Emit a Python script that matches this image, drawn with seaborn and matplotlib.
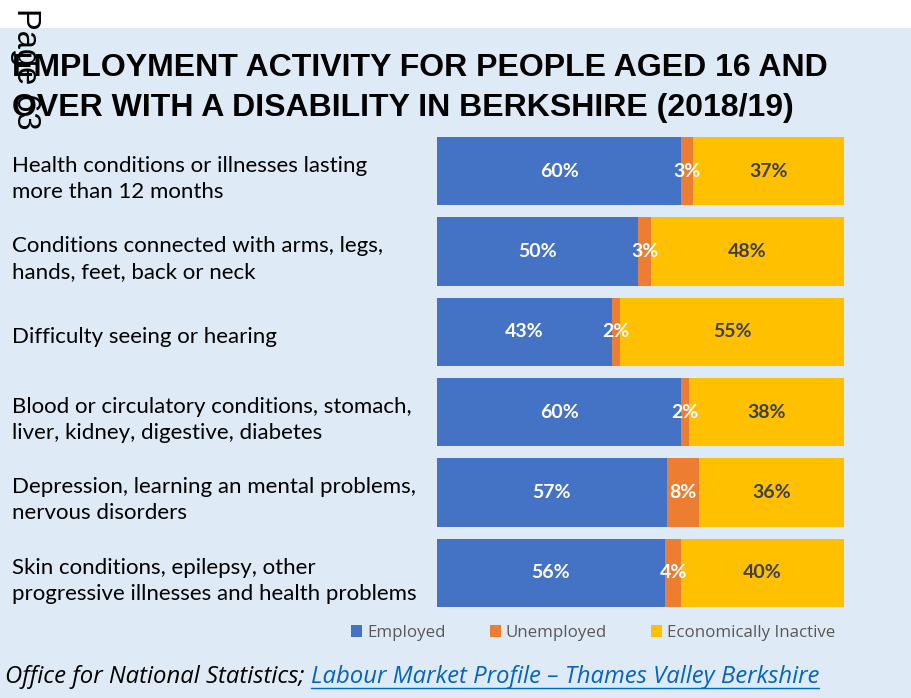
import matplotlib
matplotlib.use("Agg")
import matplotlib.pyplot as plt
from matplotlib.patches import Rectangle, Patch
from matplotlib.lines import Line2D
from matplotlib.transforms import ScaledTranslation
import seaborn as sns
import pandas as pd

# ---- data -------------------------------------------------------------
categories = [
    "Health conditions or illnesses lasting\nmore than 12 months",
    "Conditions connected with arms, legs,\nhands, feet, back or neck",
    "Difficulty seeing or hearing",
    "Blood or circulatory conditions, stomach,\nliver, kidney, digestive, diabetes",
    "Depression, learning an mental problems,\nnervous disorders",
    "Skin conditions, epilepsy, other\nprogressive illnesses and health problems",
]
employed = [60, 50, 43, 60, 57, 56]
unemployed = [3, 3, 2, 2, 8, 4]
inactive = [37, 48, 55, 38, 36, 40]
series_names = ["Employed", "Unemployed", "Economically Inactive"]

title_lines = ["EMPLOYMENT ACTIVITY FOR PEOPLE AGED 16 AND",
               "OVER WITH A DISABILITY IN BERKSHIRE (2018/19)"]
source_text = "Office for National Statistics; "
source_link = "Labour Market Profile \u2013 Thames Valley Berkshire"
page_mark = "Page 63"

# ---- style ------------------------------------------------------------
colors = ["#4472C4", "#ED7D31", "#FFC000"]
label_colors = ["white", "white", "#404040"]
BG = "#DEEAF6"
W, H = 911, 698

sns.set_theme(style="white")
plt.rcParams["font.family"] = ["Lato", "DejaVu Sans"]

# 100% stacked: each row is scaled to its own total
df = pd.DataFrame({"category": categories, "Employed": employed,
                   "Unemployed": unemployed, "Economically Inactive": inactive})
total = df[series_names].sum(axis=1)
for s in series_names:
    df[s + "_pct"] = df[s] / total * 100
df["cum0"] = df["Employed_pct"]
df["cum1"] = df["cum0"] + df["Unemployed_pct"]
df["cum2"] = df["cum1"] + df["Economically Inactive_pct"]

fig = plt.figure(figsize=(W / 100, H / 100), dpi=100)
fig.patch.set_facecolor("white")
fig.add_artist(Rectangle((0, 0), 1, 1 - 28 / H, transform=fig.transFigure,
                         facecolor=BG, edgecolor="none", zorder=-10))

ax = fig.add_axes([437 / W, 1 - 613 / H, 407 / W, 482 / H])
ax.patch.set_visible(False)

# draw the cumulative totals back to front so the segments stack
for col, c in zip(["cum2", "cum1", "cum0"], colors[::-1]):
    sns.barplot(data=df, x=col, y="category", color=c, saturation=1,
                width=0.85, orient="h", linewidth=0, ax=ax)

ax.set_xlim(0, 100)
ax.set_ylim(5.5, -0.5)
for sp in ax.spines.values():
    sp.set_visible(False)
ax.set_xticks([])
ax.set_xlabel("")
ax.set_ylabel("")
ax.set_yticks(range(len(categories)))
ax.set_yticklabels(categories, ha="left", fontsize=16, color="black",
                   linespacing=1.38)
ax.tick_params(axis="y", length=0, pad=425 * 0.72)
shift = ScaledTranslation(0, -2 / 72, fig.dpi_scale_trans)
for lbl in ax.get_yticklabels():
    lbl.set_transform(lbl.get_transform() + shift)

# segment value labels
starts = [[0] * len(categories), list(df["cum0"]), list(df["cum1"])]
widths = [list(df[s + "_pct"]) for s in series_names]
raw = [employed, unemployed, inactive]
for k in range(3):
    for i in range(len(categories)):
        ax.text(starts[k][i] + widths[k][i] / 2, i, f"{raw[k][i]}%",
                ha="center", va="center", fontsize=14, fontweight="bold",
                color=label_colors[k])

# title and page mark
fig.text(12 / W, 1 - 76 / H, title_lines[0], fontfamily="Liberation Sans",
         fontweight="bold", fontsize=23, va="baseline", color="black")
fig.text(12 / W, 1 - 116 / H, title_lines[1], fontfamily="Liberation Sans",
         fontweight="bold", fontsize=23, va="baseline", color="black")
fig.text(25 / W, 1 - 8 / H, page_mark, fontfamily="Liberation Sans",
         fontsize=23.5, rotation=270, ha="center", va="top", color="black")

# legend
handles = [Patch(facecolor=c, edgecolor="none") for c in colors]
fig.legend(handles, series_names, loc="center left",
           bbox_to_anchor=(351 / W, 1 - 633 / H), ncol=3, frameon=False,
           handlelength=0.65, handleheight=0.65, handletextpad=0.3,
           columnspacing=2.6, labelcolor="#595959",
           borderaxespad=0, borderpad=0,
           prop={"family": ["Open Sans", "DejaVu Sans"], "size": 12.2})

# source line with underlined link
t1 = fig.text(5 / W, 1 - 683 / H, source_text, fontfamily=["Open Sans", "DejaVu Sans"],
              fontstyle="italic", fontsize=17.2, va="baseline", color="black")
fig.canvas.draw()
r = fig.canvas.get_renderer()
bb = t1.get_window_extent(r)
t2 = fig.text(bb.x1 / W, 1 - 683 / H, source_link,
              fontfamily=["Open Sans", "DejaVu Sans"], fontstyle="italic",
              fontsize=17.2, va="baseline", color="#0563C1")
fig.canvas.draw()
bb2 = t2.get_window_extent(r)
uy = 1 - 688 / H
fig.add_artist(Line2D([bb2.x0 / W, bb2.x1 / W], [uy, uy], transform=fig.transFigure,
                      color="#0563C1", linewidth=1.0))

fig.savefig("out.png", dpi=100, facecolor=fig.get_facecolor())
